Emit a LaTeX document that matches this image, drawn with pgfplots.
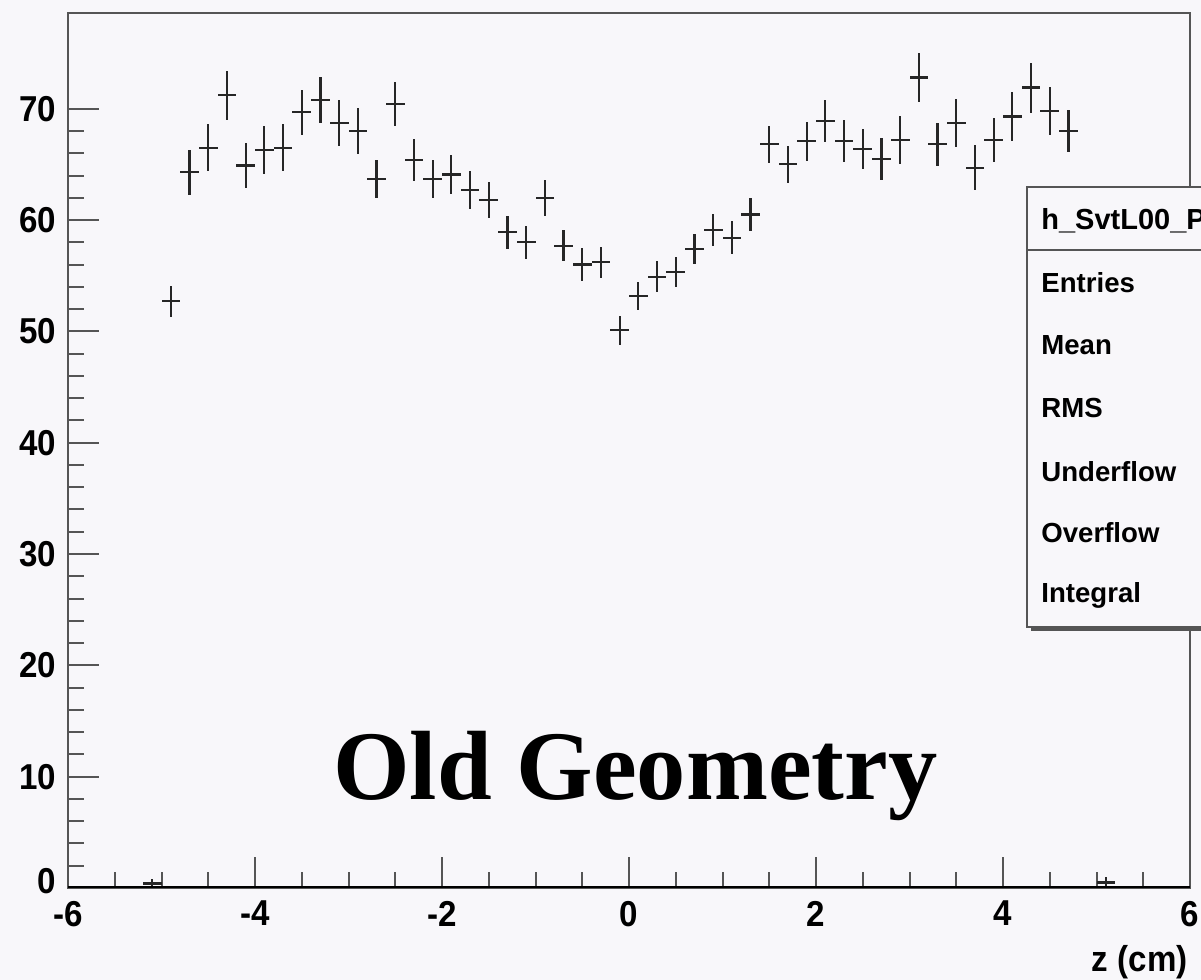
\documentclass[border=0pt]{standalone}
\usepackage{pgfplots}
\pgfplotsset{compat=1.18}
\usepackage{pgfplotstable}
\usepackage{fontspec}
\setmainfont{Liberation Sans}
\newfontfamily\rootfont[FakeStretch=0.92]{Liberation Sans}
\newfontfamily\statfont{Liberation Sans}
\newfontfamily\titlefont{Liberation Serif}
\definecolor{bg}{RGB}{248,247,250}
\definecolor{framec}{RGB}{85,85,85}

\pgfplotstableread{
x y ey
-5.1 0.4 0.4
-4.9 52.7 1.39
-4.7 64.3 2.03
-4.5 66.5 2.09
-4.3 71.2 2.17
-4.1 64.9 2.00
-3.9 66.3 2.14
-3.7 66.5 2.09
-3.5 69.7 2.02
-3.3 70.8 2.06
-3.1 68.7 2.09
-2.9 68.0 2.05
-2.7 63.7 1.73
-2.5 70.4 1.99
-2.3 65.4 1.87
-2.1 63.7 1.73
-1.9 64.1 1.76
-1.7 62.7 1.67
-1.5 61.8 1.64
-1.3 58.9 1.46
-1.1 58.0 1.49
-0.9 62.0 1.60
-0.7 57.7 1.42
-0.5 56.0 1.46
-0.3 56.2 1.42
-0.1 50.1 1.29
0.1 53.2 1.27
0.3 54.9 1.39
0.5 55.3 1.35
0.7 57.4 1.38
0.9 59.1 1.45
1.1 58.4 1.49
1.3 60.5 1.49
1.5 66.8 1.67
1.7 65.0 1.69
1.9 67.1 1.75
2.1 68.9 1.91
2.3 67.1 1.91
2.5 66.4 1.79
2.7 65.5 1.87
2.9 67.2 2.12
3.1 72.8 2.17
3.3 66.8 1.91
3.5 68.7 2.14
3.7 64.7 2.02
3.9 67.2 2.00
4.1 69.3 2.24
4.3 71.9 2.24
4.5 69.8 2.17
4.7 68.0 1.90
5.1 0.5 0.5
}\histdata

\begin{document}
\begin{tikzpicture}[x=1pt,y=1pt]
\useasboundingbox (0,0) rectangle (600.5,490);
\fill[bg] (0,0) rectangle (600.5,490);
\begin{axis}[
  at={(34pt,46pt)}, anchor=south west,
  scale only axis, width=561pt, height=437.5pt,
  xmin=-6, xmax=6, ymin=0, ymax=78.6,
  xtick={-6,-4,-2,0,2,4,6},
  xticklabels={-6,-4,-2,0,2,4,6},
  ytick={0,10,20,30,40,50,60,70},
  yticklabels={\raisebox{-3pt}[0pt][0pt]{0},10,20,30,40,50,60,70},
  minor x tick num=3, minor y tick num=4,
  tick align=inside,
  xtick pos=left, ytick pos=left,
  major tick length=15.5pt, minor tick length=8pt,
  every tick/.style={framec, line width=1pt},
  axis line style={framec, line width=1.3pt},
  tick label style={font=\rootfont\bfseries\fontsize{18pt}{18pt}\selectfont, black},
  xticklabel style={yshift=-3pt},
  yticklabel style={xshift=-2.5pt},
  axis background/.style={fill=bg},
]
\addplot[draw=none, mark=none,
  error bars/.cd, x dir=both, x fixed=0.1, y dir=both, y explicit,
  error mark=none, error bar style={draw=black!85, line width=1.1pt}]
  table[x=x, y=y, y error=ey] {\histdata};
\draw[black, line width=2pt] (rel axis cs:0,0) -- (rel axis cs:1,0);
\end{axis}
% stats box
\begin{scope}
\clip (0,0) rectangle (600.5,490);
\fill[framec] (515.5,174.5) rectangle (632,394.5);
\filldraw[fill=bg, draw=framec, line width=1pt] (513.5,176.5) rectangle (630,396.5);
\draw[framec, line width=1pt] (513.5,365) -- (630,365);
\node[anchor=base west, inner sep=0pt, font=\statfont\bfseries\fontsize{14.5pt}{14.5pt}\selectfont] at (520.5,375.3) {h\_SvtL00\_P};
\end{scope}
\begin{scope}[every node/.style={anchor=base west, inner sep=0pt, font=\statfont\bfseries\fontsize{13.8pt}{13.8pt}\selectfont}]
\node at (520.5,343.6) {Entries};
\node at (520.5,312.5) {Mean};
\node at (520.5,281) {RMS};
\node at (520.5,249.2) {Underflow};
\node at (520.5,218.5) {Overflow};
\node at (520.5,188.5) {Integral};
\end{scope}
\node[anchor=base east, inner sep=0pt, font=\rootfont\bfseries\fontsize{18pt}{18pt}\selectfont] at (594,4) {z (cm)};
\node[anchor=base west, inner sep=0pt, font=\titlefont\bfseries\fontsize{49.2pt}{49.2pt}\selectfont] at (166.5,90) {Old Geometry};
\end{tikzpicture}
\end{document}
